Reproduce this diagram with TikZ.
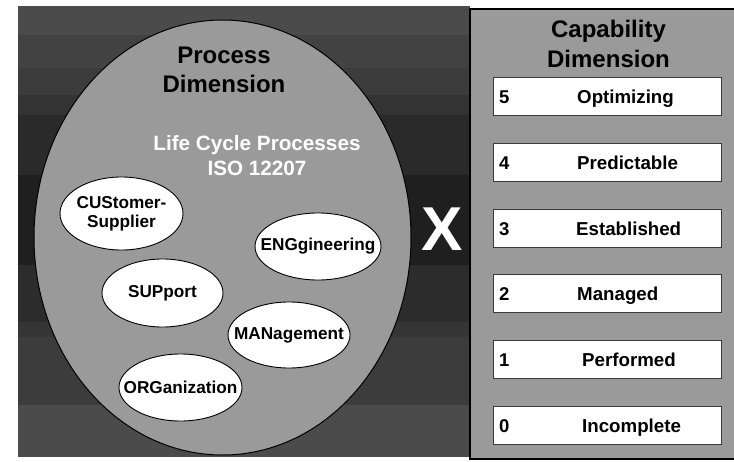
\documentclass[tikz,border=0pt]{standalone}
\usepackage{fontspec}
\setmainfont{Liberation Sans}
\usetikzlibrary{shapes.geometric}

\definecolor{bandA}{HTML}{4B4B4B}
\definecolor{bandB}{HTML}{424242}
\definecolor{bandC}{HTML}{3C3C3C}
\definecolor{bandD}{HTML}{333333}
\definecolor{bandE}{HTML}{2A2A2A}
\definecolor{bandF}{HTML}{1F1F1F}
\definecolor{bandG}{HTML}{2C2C2C}
\definecolor{bandH}{HTML}{353535}
\definecolor{panelgray}{HTML}{9A9A9A}
\definecolor{boxedge}{HTML}{3A3A3A}

\tikzset{
  heading/.style={font=\fontsize{24}{29}\selectfont\bfseries, text=black, anchor=base, inner sep=0pt},
  lifecycle/.style={font=\fontsize{20.7}{25}\selectfont\bfseries, text=white, anchor=base, inner sep=0pt},
  % negative inner sep so that the given minimum sizes fix the outline
  procell/.style={ellipse, draw=black, line width=0.9pt, fill=white,
    inner xsep=-30pt, inner ysep=-10pt,
    align=center, font=\fontsize{17.2}{19}\selectfont\bfseries},
  levelbox/.style={draw=boxedge, line width=1pt, fill=white, minimum width=228pt,
    minimum height=38pt, inner sep=0pt, anchor=north west},
  levelnum/.style={font=\fontsize{18.5}{22}\selectfont\bfseries, anchor=base west, inner sep=0pt},
  levelname/.style={font=\fontsize{18.7}{22}\selectfont\bfseries, anchor=base west, inner sep=0pt}
}

\begin{document}
\begin{tikzpicture}[x=1pt,y=-1pt]
\useasboundingbox (0,0) rectangle (734,461);
\fill[white] (0,0) rectangle (734,461);

% banded dark backdrop
\fill[bandA] (18,6)   rectangle (470,35);
\fill[bandB] (18,35)  rectangle (470,68);
\fill[bandC] (18,68)  rectangle (470,95);
\fill[bandD] (18,95)  rectangle (470,115);
\fill[bandE] (18,115) rectangle (470,175);
\fill[bandF] (18,175) rectangle (470,265);
\fill[bandG] (18,265) rectangle (470,322);
\fill[bandH] (18,322) rectangle (470,337);
\fill[bandC] (18,337) rectangle (470,405);
\fill[bandA] (18,405) rectangle (470,457);

% process dimension
\draw[fill=panelgray, line width=1pt] (222.5,237.5) ellipse [x radius=188.5, y radius=217.5];
\node[heading] (pt1) at (224,63) {Process};
\node[heading] (pt2) at (224,92) {Dimension};
\node[lifecycle] (lc1) at (257,150) {Life Cycle Processes};
\node[lifecycle] (lc2) at (257,175) {ISO 12207};

\node[procell, minimum width=123pt, minimum height=73pt] (cus) at (121.5,213.5) {CUStomer-\\Supplier};
\node[procell, minimum width=126pt, minimum height=67pt] (eng) at (318,246.5) {ENGgineering};
\node[procell, minimum width=121pt, minimum height=68pt] (sup) at (162.5,293) {SUPport};
\node[procell, minimum width=122pt, minimum height=66pt] (man) at (289,335) {MANagement};
\node[procell, minimum width=123pt, minimum height=67pt] (org) at (180.5,387.5) {ORGanization};

% product sign
\node[font=\fontsize{62}{62}\selectfont\bfseries, text=white, anchor=base, inner sep=0pt] (times) at (442.5,250) {X};

% capability dimension
\draw[fill=panelgray, line width=1.2pt] (470,9) rectangle (740,459);
\node[heading] (ct1) at (608.5,37) {Capability};
\node[heading] (ct2) at (608.5,67) {Dimension};

\node[levelbox] (l5) at (493,77)  {};
\node[levelbox] (l4) at (493,143) {};
\node[levelbox] (l3) at (493,209) {};
\node[levelbox] (l2) at (493,274) {};
\node[levelbox] (l1) at (493,340) {};
\node[levelbox] (l0) at (493,406) {};

\node[levelnum] (n5) at (499,103) {5};
\node[levelnum] (n4) at (499,169) {4};
\node[levelnum] (n3) at (499,235) {3};
\node[levelnum] (n2) at (499,300) {2};
\node[levelnum] (n1) at (499,366) {1};
\node[levelnum] (n0) at (499,432) {0};

\node[levelname] (t5) at (577,103) {Optimizing};
\node[levelname] (t4) at (577,169) {Predictable};
\node[levelname] (t3) at (576,235) {Established};
\node[levelname] (t2) at (577,300) {Managed};
\node[levelname] (t1) at (582,366) {Performed};
\node[levelname] (t0) at (582,432) {Incomplete};
\end{tikzpicture}
\end{document}
